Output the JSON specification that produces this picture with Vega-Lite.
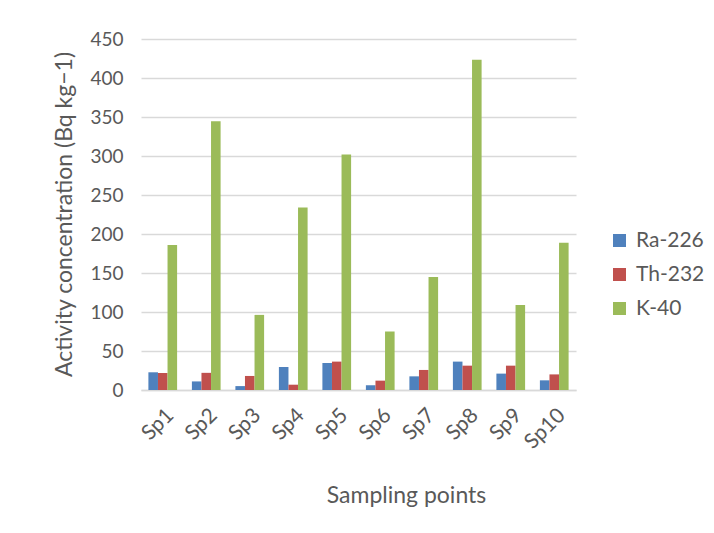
{
  "$schema": "https://vega.github.io/schema/vega-lite/v6.json",
  "width": 435,
  "height": 351,
  "autosize": "none",
  "padding": {"left": 141, "top": 39, "right": 138, "bottom": 143},
  "background": "white",
  "config": {
    "view": {"stroke": null},
    "font": "Lato",
    "axis": {"labelColor": "#595959", "titleColor": "#595959", "labelFont": "Lato", "titleFont": "Lato", "titleFontWeight": "normal"},
    "legend": {"labelColor": "#595959", "labelFont": "Lato"}
  },
  "data": {
    "values": [
      {"sp": "Sp1", "nuclide": "Ra-226", "value": 22.7},
      {"sp": "Sp1", "nuclide": "Th-232", "value": 21.8},
      {"sp": "Sp1", "nuclide": "K-40", "value": 186},
      {"sp": "Sp2", "nuclide": "Ra-226", "value": 11},
      {"sp": "Sp2", "nuclide": "Th-232", "value": 22},
      {"sp": "Sp2", "nuclide": "K-40", "value": 344.6},
      {"sp": "Sp3", "nuclide": "Ra-226", "value": 5},
      {"sp": "Sp3", "nuclide": "Th-232", "value": 18},
      {"sp": "Sp3", "nuclide": "K-40", "value": 96.3},
      {"sp": "Sp4", "nuclide": "Ra-226", "value": 29.5},
      {"sp": "Sp4", "nuclide": "Th-232", "value": 6.8},
      {"sp": "Sp4", "nuclide": "K-40", "value": 234},
      {"sp": "Sp5", "nuclide": "Ra-226", "value": 34.7},
      {"sp": "Sp5", "nuclide": "Th-232", "value": 36.4},
      {"sp": "Sp5", "nuclide": "K-40", "value": 301.8},
      {"sp": "Sp6", "nuclide": "Ra-226", "value": 6},
      {"sp": "Sp6", "nuclide": "Th-232", "value": 12},
      {"sp": "Sp6", "nuclide": "K-40", "value": 75},
      {"sp": "Sp7", "nuclide": "Ra-226", "value": 17.5},
      {"sp": "Sp7", "nuclide": "Th-232", "value": 25.7},
      {"sp": "Sp7", "nuclide": "K-40", "value": 145},
      {"sp": "Sp8", "nuclide": "Ra-226", "value": 36.4},
      {"sp": "Sp8", "nuclide": "Th-232", "value": 31.2},
      {"sp": "Sp8", "nuclide": "K-40", "value": 423.4},
      {"sp": "Sp9", "nuclide": "Ra-226", "value": 21},
      {"sp": "Sp9", "nuclide": "Th-232", "value": 31.2},
      {"sp": "Sp9", "nuclide": "K-40", "value": 109},
      {"sp": "Sp10", "nuclide": "Ra-226", "value": 12.4},
      {"sp": "Sp10", "nuclide": "Th-232", "value": 20},
      {"sp": "Sp10", "nuclide": "K-40", "value": 188.8}
    ]
  },
  "mark": {"type": "bar"},
  "encoding": {
    "x": {
      "field": "sp",
      "type": "nominal",
      "scale": {"domain": ["Sp1","Sp2","Sp3","Sp4","Sp5","Sp6","Sp7","Sp8","Sp9","Sp10"], "paddingInner": 0.34, "paddingOuter": 0.17},
      "axis": {
        "title": "Sampling points",
        "titleFontSize": 23,
        "titleX": 265,
        "titleY": 105,
        "titleAlign": "center",
        "titleBaseline": "middle",
        "labelAngle": -45,
        "labelFontSize": 21,
        "labelPadding": 14,
        "ticks": false,
        "domainColor": "#D9D9D9",
        "domainWidth": 1.5,
        "grid": false
      }
    },
    "xOffset": {
      "field": "nuclide",
      "type": "nominal",
      "scale": {"domain": ["Ra-226", "Th-232", "K-40"], "paddingInner": 0, "paddingOuter": 0}
    },
    "y": {
      "field": "value",
      "type": "quantitative",
      "scale": {"domain": [0, 450], "nice": false},
      "axis": {
        "title": "Activity concentration (Bq kg−1)",
        "titleFontSize": 23,
        "titleX": -77,
        "titleY": 175,
        "titleAngle": 270,
        "titleAlign": "center",
        "titleBaseline": "middle",
        "values": [0, 50, 100, 150, 200, 250, 300, 350, 400, 450],
        "labelFontSize": 19,
        "labelPadding": 18,
        "ticks": false,
        "domain": false,
        "grid": true,
        "gridColor": "#D9D9D9",
        "gridWidth": 1.3
      }
    },
    "color": {
      "field": "nuclide",
      "type": "nominal",
      "scale": {"domain": ["Ra-226", "Th-232", "K-40"], "range": ["#4F81BD", "#C0504D", "#9BBB59"]},
      "legend": {
        "title": null,
        "orient": "none",
        "legendX": 468,
        "legendY": 191,
        "padding": 0,
        "symbolType": "square",
        "symbolSize": 169,
        "symbolStrokeWidth": 0,
        "labelFontSize": 21,
        "labelOffset": 6,
        "rowPadding": 12
      }
    }
  }
}
